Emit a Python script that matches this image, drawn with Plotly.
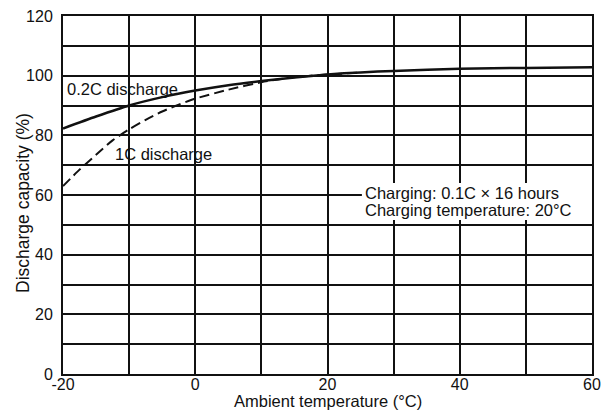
import plotly.graph_objects as go

# ambient temperature (°C) and discharge capacity (%)
temp_02c = [-20, -15, -10, -5, 0, 5, 10, 15, 20, 25, 30, 40, 50, 60]
cap_02c = [82.3, 86.3, 90, 92.8, 95, 96.8, 98.2, 99.4, 100.4, 101.1, 101.6, 102.3, 102.6, 102.8]

temp_1c = [-20, -17.5, -15, -12.5, -10, -7.5, -5, -2.5, 0, 5, 10, 15, 20, 25]
cap_1c = [63, 68.5, 73.5, 78.3, 82, 85.2, 88, 90.3, 92.3, 95.3, 97.8, 99.5, 100.4, 101]

x_ticks = [-20, 0, 20, 40, 60]
x_labels = ["-20", "0", "20", "40", "60"]
y_ticks = [0, 20, 40, 60, 80, 100, 120]

FONT = "Liberation Sans, Arial, Helvetica, sans-serif"
INK = "#111111"
GRID = dict(showgrid=True, gridcolor=INK, gridwidth=1.5)

fig = go.Figure()
fig.add_trace(go.Scatter(
    x=temp_02c, y=cap_02c, mode="lines", name="0.2C discharge",
    line=dict(color=INK, width=2.5, shape="spline", smoothing=0.6),
))
fig.add_trace(go.Scatter(
    x=temp_1c, y=cap_1c, mode="lines", name="1C discharge",
    line=dict(color=INK, width=2, dash="10px,5px", shape="spline", smoothing=0.6),
))

fig.add_annotation(x=-19.7, y=95.5, text="0.2C discharge", showarrow=False,
                   xanchor="left", yanchor="middle", font=dict(size=16.5))
fig.add_annotation(x=-12.5, y=73.6, text="1C discharge", showarrow=False,
                   xanchor="left", yanchor="middle", font=dict(size=16.5))

# white patch behind the charging note so the grid stops at the text
fig.add_shape(type="rect", x0=25.2, x1=60, y0=51.6, y1=64.0, layer="between",
              fillcolor="white", line=dict(width=0))
fig.add_annotation(x=25.4, y=60.6, text="Charging: 0.1C × 16 hours", showarrow=False,
                   xanchor="left", yanchor="middle", font=dict(size=16.5))
fig.add_annotation(x=25.4, y=54.9, text="Charging temperature: 20°C", showarrow=False,
                   xanchor="left", yanchor="middle", font=dict(size=16.5))

# axis titles placed by hand, as in the scan
fig.add_annotation(xref="paper", yref="paper", x=0.5, y=0, yshift=-27,
                   text="Ambient temperature (°C)", showarrow=False,
                   xanchor="center", yanchor="middle", font=dict(size=16.5))
fig.add_annotation(xref="paper", yref="paper", x=0, y=0.5, xshift=-40, yshift=-8,
                   text="Discharge capacity (%)", textangle=-90, showarrow=False,
                   xanchor="center", yanchor="middle", font=dict(size=17.5))

# the page body adds an 8px margin, so the figure is sized to the window less that
fig.update_layout(
    width=593, height=402,
    margin=dict(l=55, r=9, t=8, b=36),
    paper_bgcolor="white", plot_bgcolor="white",
    showlegend=False,
    font=dict(family=FONT, color=INK, size=16),
)
fig.update_xaxes(
    range=[-20, 60], tickvals=x_ticks, ticktext=x_labels, ticks="",
    ticklabelstandoff=-5, automargin=False, **GRID,
    minor=dict(dtick=10, tick0=-20, **GRID),
    showline=True, linecolor=INK, linewidth=2, mirror=True, zeroline=False,
)
fig.update_yaxes(
    range=[0, 120], tickvals=y_ticks, ticks="", ticklabelstandoff=5,
    ticklabeloverflow="allow", automargin=False, **GRID,
    minor=dict(dtick=10, tick0=0, **GRID),
    showline=True, linecolor=INK, linewidth=2, mirror=True, zeroline=False,
)

fig.write_html("out.html")
